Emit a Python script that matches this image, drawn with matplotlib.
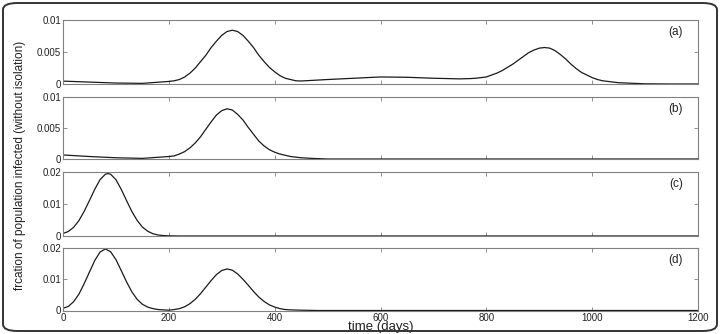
import matplotlib
matplotlib.use("Agg")
import matplotlib.pyplot as plt
from matplotlib.patches import FancyBboxPatch

plt.rcParams['font.family'] = ['Liberation Sans', 'DejaVu Sans']

# ---- data ----
t_a = [0, 50, 100, 150, 200, 210, 220, 230, 240, 250, 260, 270, 280, 290, 300,
       310, 320, 330, 340, 350, 360, 370, 380, 390, 400, 410, 420, 430, 440, 450,
       500, 550, 600, 650, 700, 750, 770, 780, 790, 800, 810, 820, 830, 840, 850,
       860, 870, 880, 890, 900, 910, 920, 930, 940, 950, 960, 970, 980, 990, 1000,
       1010, 1020, 1050, 1100, 1150, 1200]
y_a = [0.00045, 0.0003, 0.00015, 0.0001, 0.0004, 0.0005, 0.0007, 0.0011, 0.0017, 0.0025,
       0.0035, 0.0045, 0.0057, 0.0067, 0.0076, 0.0082, 0.0084, 0.0082, 0.0076, 0.0067,
       0.0057, 0.0045, 0.0035, 0.0026, 0.0019, 0.0013, 0.0009, 0.0007, 0.0005, 0.00047,
       0.0007, 0.0009, 0.0011, 0.00105, 0.0009, 0.0008, 0.00085, 0.0009, 0.0010, 0.0011,
       0.0014, 0.0017, 0.0021, 0.0026, 0.0031, 0.0037, 0.0043, 0.0049, 0.0053, 0.0056,
       0.0057, 0.0056, 0.0052, 0.0046, 0.0039, 0.0031, 0.0024, 0.0018, 0.0014, 0.0010,
       0.0007, 0.0005, 0.0002, 0.00003, 0.0, 0.0]

t_b = [0, 50, 100, 150, 200, 210, 220, 230, 240, 250, 260, 270, 280, 290, 300,
       310, 320, 330, 340, 350, 360, 370, 380, 390, 400, 410, 420, 430, 440, 450,
       470, 500, 1200]
y_b = [0.00065, 0.0004, 0.0002, 0.0001, 0.0004, 0.0005, 0.0008, 0.0012, 0.0018, 0.0026,
       0.0036, 0.0048, 0.0060, 0.0071, 0.0078, 0.0081, 0.0079, 0.0072, 0.0063, 0.0051,
       0.0040, 0.0029, 0.0021, 0.0015, 0.0011, 0.0008, 0.0006, 0.0004, 0.0003, 0.0002,
       0.0001, 0.0, 0.0]

t_c = [0, 10, 20, 30, 40, 50, 60, 70, 80, 85, 90, 100, 110, 120, 130, 140, 150,
       160, 170, 180, 190, 200, 220, 1200]
y_c = [0.0008, 0.0014, 0.0027, 0.0048, 0.0077, 0.0111, 0.0146, 0.0176, 0.0193, 0.0195,
       0.0193, 0.0176, 0.0146, 0.0111, 0.0077, 0.0049, 0.0028, 0.0015, 0.0007, 0.0003,
       0.00013, 0.00005, 0.0, 0.0]

t_d = [0, 10, 20, 30, 40, 50, 60, 70, 80, 90, 100, 110, 120, 130, 140, 150, 160,
       170, 180, 190, 200, 210, 220, 230, 240, 250, 260, 270, 280, 290, 300, 310,
       320, 330, 340, 350, 360, 370, 380, 390, 400, 410, 420, 430, 450, 480, 1200]
y_d = [0.0007, 0.0013, 0.0028, 0.0052, 0.0086, 0.0123, 0.0160, 0.0187, 0.0197, 0.0188,
       0.0163, 0.0128, 0.0092, 0.0060, 0.0036, 0.0020, 0.0011, 0.0006, 0.0003, 0.0002,
       0.0001, 0.0003, 0.0006, 0.0012, 0.0022, 0.0036, 0.0054, 0.0075, 0.0096, 0.0115,
       0.0128, 0.0133, 0.0129, 0.0117, 0.0100, 0.0081, 0.0061, 0.0043, 0.0029, 0.0018,
       0.0011, 0.0006, 0.0003, 0.0002, 0.0001, 0.0, 0.0]

panel_labels = ['(a)', '(b)', '(c)', '(d)']
y_limits = [0.01, 0.01, 0.02, 0.02]
y_ticks = [[0, 0.005, 0.01], [0, 0.005, 0.01], [0, 0.01, 0.02], [0, 0.01, 0.02]]
y_ticklabels = [['0', '0.005', '0.01'], ['0', '0.005', '0.01'],
                ['0', '0.01', '0.02'], ['0', '0.01', '0.02']]
x_ticks = [0, 200, 400, 600, 800, 1000, 1200]
x_ticklabels = ['0', '200', '400', '600', '800', '1000', '1200']
series = [(t_a, y_a), (t_b, y_b), (t_c, y_c), (t_d, y_d)]

W, H = 720, 334
fig = plt.figure(figsize=(W / 100, H / 100), dpi=100)

# rounded frame
frame = FancyBboxPatch((3 / W, 3 / H), (W - 6) / W, (H - 6) / H,
                       boxstyle="round,pad=0,rounding_size=0.02",
                       transform=fig.transFigure, fill=False,
                       edgecolor='#333333', linewidth=1.4)
fig.patches.append(frame)

# axes boxes in pixel coordinates (top, bottom)
boxes = [(20, 84), (97, 159), (172, 236), (248, 310.5)]
left, right = 63, 698
spine_col = '#808080'
for i, ((top, bot), (tt, yy)) in enumerate(zip(boxes, series)):
    ax = fig.add_axes([left / W, 1 - bot / H, (right - left) / W, (bot - top) / H])
    ax.plot(tt, yy, color='#1a1a1a', linewidth=0.9)
    ax.set_xlim(0, 1200)
    ax.set_ylim(0, y_limits[i])
    ax.set_yticks(y_ticks[i])
    ax.set_yticklabels(y_ticklabels[i])
    ax.set_xticks(x_ticks)
    if i == 3:
        ax.set_xticklabels(x_ticklabels)
    else:
        ax.set_xticklabels([])
    ax.tick_params(direction='in', length=3, width=0.6, color=spine_col,
                   labelsize=7, pad=1.5, top=True, right=True,
                   labelcolor='#222222')
    for s in ax.spines.values():
        s.set_color(spine_col)
        s.set_linewidth(0.8)
    ax.text(0.965, 0.81, panel_labels[i], transform=ax.transAxes,
            ha='center', va='center', fontsize=8.5, color='#222222')
    if i == 3:
        ax.set_xlabel('time (days)', fontsize=9.5, labelpad=-1, color='#222222')

fig.text(20 / W, 1 - 165 / H, 'frcation of population infected (without isolation)',
         rotation=90, ha='center', va='center', fontsize=8.5, color='#222222')

fig.savefig('out.png', dpi=100)
